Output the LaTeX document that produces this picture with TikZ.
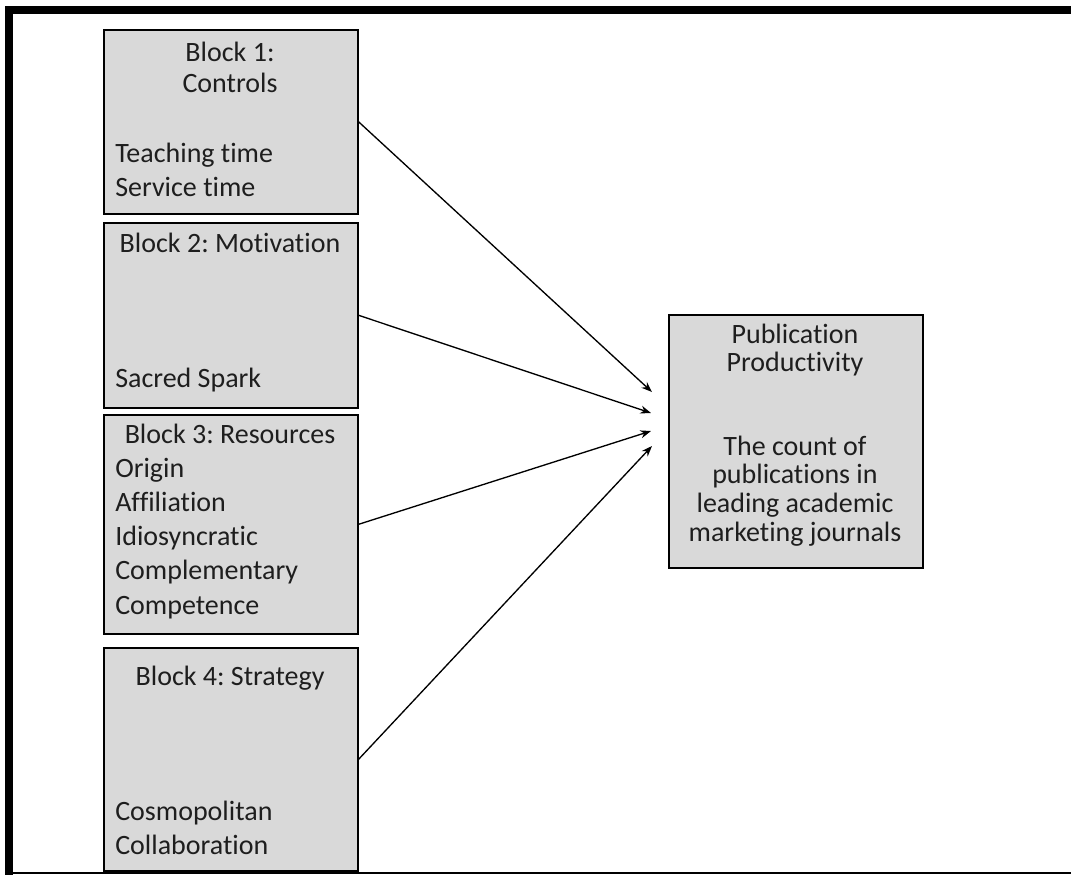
\documentclass[tikz,border=0pt]{standalone}
\usepackage{fontspec}
\setmainfont{Carlito}[Ligatures=NoCommon]
\usetikzlibrary{arrows.meta}
\definecolor{boxfill}{RGB}{217,217,217}
\definecolor{inkgray}{RGB}{30,30,30}
\frenchspacing
% top-aligned stacks of lines, baseline on the first line
\newcommand{\lstack}[1]{\begin{tabular}[t]{@{}l@{}}#1\end{tabular}}
\newcommand{\cstack}[1]{\begin{tabular}[t]{@{}c@{}}#1\end{tabular}}
\begin{document}
\begin{tikzpicture}[x=0.75pt,y=-0.75pt,
  blockbox/.style={draw=black,line width=1.2pt,fill=boxfill,rectangle,
    inner sep=0pt,anchor=north west,minimum width=190.5pt},
  title/.style={inner sep=0pt,anchor=base,text=inkgray,
    font=\fontsize{21pt}{23.5pt}\selectfont},
  items/.style={inner sep=0pt,anchor=base west,text=inkgray,
    font=\fontsize{21pt}{25.7pt}\selectfont},
  ptext/.style={inner sep=0pt,anchor=base,text=inkgray,
    font=\fontsize{21pt}{21.5pt}\selectfont},
  link/.style={draw=black,line width=1pt,-{Stealth[length=8pt,width=6pt]}}]
  \useasboundingbox (0,0) rectangle (1071,876);
  \fill[white] (0,0) rectangle (1071,876);

  % outer frame: heavy top and left edges, thin bottom edge
  \draw[line width=6pt] (9,10) -- (1071,10);
  \draw[line width=6pt] (9,6) -- (9,875);
  \draw[line width=1.5pt] (5,873) -- (1071,873);

  % predictor blocks
  \node[blockbox,minimum height=138pt]    (b1) at (103,29)  {};
  \node[blockbox,minimum height=138.75pt] (b2) at (103,222) {};
  \node[blockbox,minimum height=164.25pt] (b3) at (103,414) {};
  \node[blockbox,minimum height=167.25pt] (b4) at (103,647) {};

  \node[title] (b1title) at (230,61)  {\cstack{Block 1:\\Controls}};
  \node[items] (b1items) at (115,162) {\lstack{Teaching time\\Service time}};

  \node[title] (b2title) at (230,252) {Block 2: Motivation};
  \node[items] (b2items) at (115,387) {Sacred Spark};

  \node[title] (b3title) at (230,443) {Block 3: Resources};
  \node[items] (b3items) at (115,477) {\lstack{Origin\\Affiliation\\Idiosyncratic\\Complementary\\Competence}};

  \node[title] (b4title) at (230,685) {Block 4: Strategy};
  \node[items] (b4items) at (115,820) {\lstack{Cosmopolitan\\Collaboration}};

  % outcome block
  \node[blockbox,minimum height=189.75pt] (pub) at (668,314) {};
  \node[ptext] (pubtitle) at (795,343) {\cstack{Publication\\Productivity}};
  \node[ptext] (pubbody)  at (795,455) {\cstack{The count of\\publications in\\leading academic\\marketing journals}};

  % arrow tips in front of the outcome block
  \coordinate (t1) at (652,392);
  \coordinate (t2) at (651,413);
  \coordinate (t3) at (651,431);
  \coordinate (t4) at (652,446);

  \draw[link] (b1.east) -- (t1);
  \draw[link] (b2.east) -- (t2);
  \draw[link] (b3.east) -- (t3);
  \draw[link] (b4.east) -- (t4);
\end{tikzpicture}
\end{document}
